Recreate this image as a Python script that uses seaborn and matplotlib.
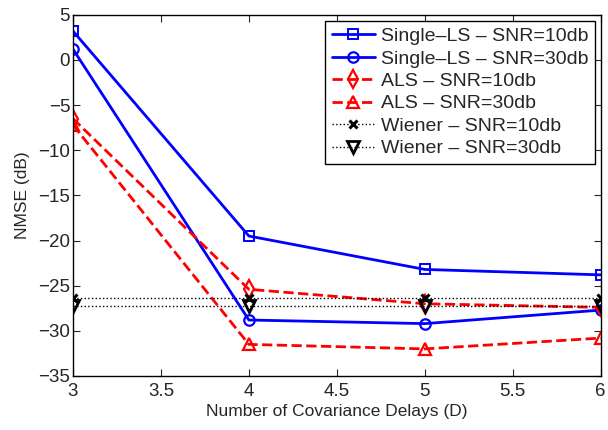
import pandas as pd
import seaborn as sns
import matplotlib.pyplot as plt
from matplotlib.ticker import FuncFormatter

# data
delays = [3, 4, 5, 6]
ls_10db = [3.2, -19.5, -23.2, -23.8]
ls_30db = [1.2, -28.8, -29.2, -27.7]
als_10db = [-6.5, -25.4, -27.0, -27.4]
als_30db = [-7.2, -31.5, -32.0, -30.8]
wiener_10db = [-26.4, -26.4, -26.4, -26.4]
wiener_30db = [-27.3, -27.3, -27.3, -27.3]

labels = ["Single\u2013LS \u2013 SNR=10db", "Single\u2013LS \u2013 SNR=30db",
          "ALS \u2013 SNR=10db", "ALS \u2013 SNR=30db",
          "Wiener \u2013 SNR=10db", "Wiener \u2013 SNR=30db"]
values = [ls_10db, ls_30db, als_10db, als_30db, wiener_10db, wiener_30db]

styles = [
    dict(color="#0000ff", linestyle="-", marker="s", lw=2.0, ms=6.5, mew=1.4),
    dict(color="#0000ff", linestyle="-", marker="o", lw=2.0, ms=7.5, mew=1.6),
    dict(color="#ff0000", linestyle="--", marker="d", lw=2.0, ms=9, mew=1.6),
    dict(color="#ff0000", linestyle="--", marker="^", lw=2.0, ms=9, mew=1.6),
    dict(color="black", linestyle=":", marker="x", lw=1.0, ms=6, mew=2.2),
    dict(color="black", linestyle=":", marker="v", lw=1.0, ms=9, mew=2.0),
]

df = pd.DataFrame({
    "D": delays * len(labels),
    "NMSE": [v for vals in values for v in vals],
    "series": [lab for lab in labels for _ in delays],
})

sns.set_theme(style="ticks")
plt.rcParams["font.family"] = ["Liberation Sans", "DejaVu Sans"]
plt.rcParams["axes.linewidth"] = 1.0

fig = plt.figure(figsize=(6.08, 4.30), dpi=100)
ax = fig.add_axes([0.12, 0.1256, 0.868, 0.84])

handles = []
for lab, st in zip(labels, styles):
    sub = df[df["series"] == lab]
    sns.lineplot(data=sub, x="D", y="NMSE", ax=ax, color=st["color"],
                 linestyle=st["linestyle"], marker=st["marker"], linewidth=st["lw"],
                 markersize=st["ms"], markeredgewidth=st["mew"],
                 markeredgecolor=st["color"], markerfacecolor="none",
                 label=lab, legend=False)
    handles.append(ax.lines[-1])

ax.set_xlim(3, 6)
ax.set_ylim(-35, 5)
ax.set_xticks([3, 3.5, 4, 4.5, 5, 5.5, 6])
ax.set_yticks(range(-35, 6, 5))
ax.xaxis.set_major_formatter(FuncFormatter(lambda v, p: f"{v:g}"))
ax.yaxis.set_major_formatter(FuncFormatter(lambda v, p: f"{v:g}".replace("-", "\u2212")))
ax.tick_params(direction="in", top=True, right=True, labelsize=13.5, length=5, width=0.8, pad=2)
ax.tick_params(axis="x", pad=5)
for s in ax.spines.values():
    s.set_visible(True)
    s.set_color("black")
ax.set_xlabel("Number of Covariance Delays (D)", fontsize=12.5, labelpad=3)
ax.set_ylabel("NMSE (dB)", fontsize=12.5, labelpad=6)

leg = ax.legend(handles=handles, labels=labels, loc="upper right", fontsize=14,
                frameon=True, fancybox=False, edgecolor="black", framealpha=1,
                handlelength=2.2, handletextpad=0.3, labelspacing=0.25,
                borderpad=0.35, borderaxespad=0.3)
leg.get_frame().set_linewidth(1.0)

fig.savefig("out.png", dpi=100)
